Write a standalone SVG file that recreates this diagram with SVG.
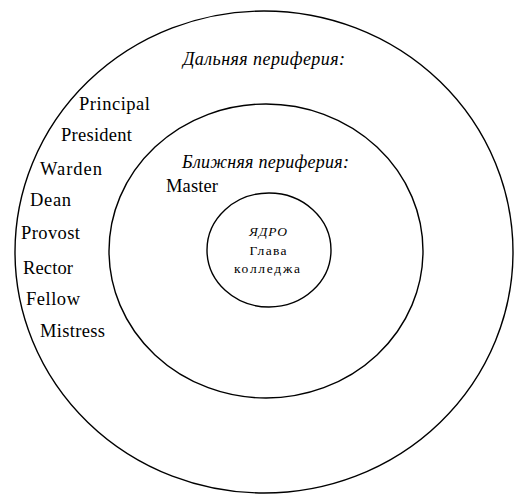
<svg xmlns="http://www.w3.org/2000/svg" width="515" height="495" viewBox="0 0 515 495">
<style>
.ring{fill:none;stroke:#000;stroke-width:1.4}
.t{font-family:"Liberation Serif","Times New Roman",serif;font-size:18.5px;fill:#000}
.h{font-family:"Liberation Serif","Times New Roman",serif;font-style:italic;font-size:18px;fill:#000}
.c{font-family:"Liberation Serif","Times New Roman",serif;font-size:13.5px;fill:#000;text-anchor:middle}
</style>
<rect width="515" height="495" fill="#fff"/>
<g id="outer">
<ellipse class="ring" cx="264" cy="252" rx="249" ry="241"/>
<text class="h" x="183" y="65" textLength="162" lengthAdjust="spacing">Дальняя периферия:</text>
<text class="t" x="79" y="110" textLength="71" lengthAdjust="spacing">Principal</text>
<text class="t" x="61" y="141" textLength="71" lengthAdjust="spacing">President</text>
<text class="t" x="40" y="175" textLength="62" lengthAdjust="spacing">Warden</text>
<text class="t" x="30" y="206" textLength="41" lengthAdjust="spacing">Dean</text>
<text class="t" x="21" y="239" textLength="59" lengthAdjust="spacing">Provost</text>
<text class="t" x="23" y="274" textLength="50" lengthAdjust="spacing">Rector</text>
<text class="t" x="26" y="305" textLength="54" lengthAdjust="spacing">Fellow</text>
<text class="t" x="40" y="337" textLength="65" lengthAdjust="spacing">Mistress</text>
</g>
<g id="middle">
<ellipse class="ring" cx="266" cy="251" rx="157" ry="147"/>
<text class="h" x="182" y="168" textLength="167" lengthAdjust="spacing">Ближняя периферия:</text>
<text class="t" x="166" y="192" textLength="52" lengthAdjust="spacing">Master</text>
</g>
<g id="core">
<ellipse class="ring" cx="269" cy="250" rx="62" ry="57"/>
<text class="c" x="268" y="236" font-style="italic" textLength="38" lengthAdjust="spacing">ЯДРО</text>
<text class="c" x="268" y="255" textLength="37" lengthAdjust="spacing">Глава</text>
<text class="c" x="267" y="273" textLength="66" lengthAdjust="spacing">колледжа</text>
</g>
<g id="connectors"></g>
</svg>
